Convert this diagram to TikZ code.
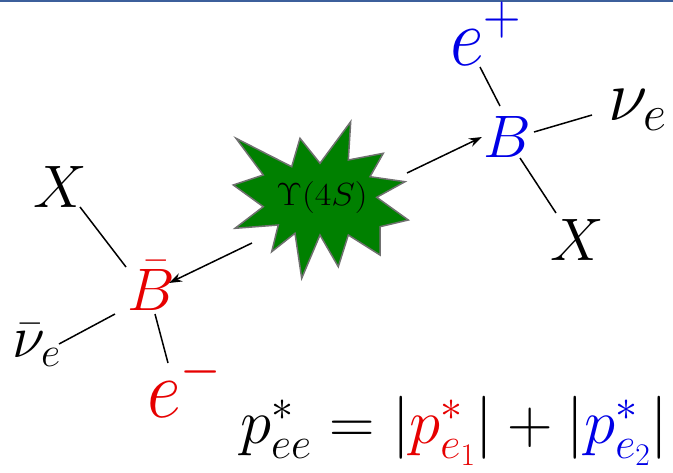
\RequirePackage{fix-cm}
\documentclass[tikz,border=0pt]{standalone}
\usetikzlibrary{arrows.meta,calc}
\definecolor{myred}{RGB}{230,0,0}
\definecolor{myblue}{RGB}{0,0,230}
\definecolor{stargreen}{RGB}{0,128,0}
\definecolor{stargray}{RGB}{112,112,112}
\definecolor{rulecol}{RGB}{60,95,155}
\begin{document}
\begin{tikzpicture}[x=1pt,y=-1pt,
  lbl/.style={inner sep=0pt,anchor=base west,font=\fontsize{60}{66}\selectfont},
  big/.style={font=\fontsize{74}{80}\selectfont},
  leg/.style={line width=1.5pt,black},
  arr/.style={line width=1.5pt,-{Stealth[length=13pt,width=9pt]}}]
\useasboundingbox (0,0) rectangle (673,472);
\fill[rulecol] (0,0) rectangle (673,2);
% star
\coordinate (S) at (320,200);
\filldraw[fill=stargreen,draw=stargray,line width=1.5pt,line join=miter]
 (236,138.3) -- (291.7,166.7) -- (300,138.3) -- (320,163.3) -- (350.7,121.7)
 -- (348.3,160) -- (383.3,153.3) -- (370,176.7) -- (405,181.7) -- (376.7,197.3)
 -- (408.3,220) -- (380,226.7) -- (380,255) -- (348.3,235) -- (338.3,266.7)
 -- (320,235) -- (301.7,278.3) -- (295,233.3) -- (271.7,251.7) -- (278.3,225)
 -- (235,228.3) -- (263.3,206.7) -- (233.3,185) -- (263.3,175) -- cycle;
\node[inner sep=0pt,anchor=base,font=\fontsize{32}{34}\selectfont] (ups) at (322,205)
 {\scalebox{1.12}[1]{$\Upsilon(4S)$}};
% right B
\node[lbl,text=myblue] (B) at (483,157) {$B$};
\node[lbl,big,text=myblue] (ep) at (450,65) {\scalebox{1}[1.12]{$e^{+}$}};
\node[lbl,font=\fontsize{72}{78}\selectfont] (nu) at (608,120) {$\nu_e$};
\node[lbl] (XR) at (550,260) {$X$};
% left Bbar
\node[lbl,text=myred] (Bb) at (127,310) {$\bar{B}$};
\node[lbl] (XL) at (33,207) {$X$};
\node[lbl] (nub) at (12,357) {$\bar{\nu}_e$};
\node[lbl,big,text=myred] (em) at (147,417) {\scalebox{1}[1.12]{$e^{-}$}};
% legs
\draw[leg] ([shift={(30,2)}]ep.base west) -- ([shift={(17,-51)}]B.base west);
\draw[leg] ([shift={(51,-25)}]B.base west) -- ([shift={(-16,-5)}]nu.base west);
\draw[leg] ([shift={(37,1)}]B.base west) -- ([shift={(6,-47)}]XR.base west);
\draw[leg] ([shift={(47,0)}]XL.base west) -- ([shift={(-1,-43)}]Bb.base west);
\draw[leg] ([shift={(-12,4)}]Bb.base west) -- ([shift={(47,-13)}]nub.base west);
\draw[leg] ([shift={(28,4)}]Bb.base west) -- ([shift={(21,-54)}]em.base west);
% arrows
\draw[arr] ([shift={(87,-27)}]S) -- ([shift={(-1,-20)}]B.base west);
\draw[arr] ([shift={(-68,43)}]S) -- ([shift={(42,-27)}]Bb.base west);
% formula
\node[lbl,font=\fontsize{63}{68}\selectfont] (eq) at (240,443)
 {$p^*_{ee} = |{\color{myred}p^*_{e_1}}| + |{\color{myblue}p^*_{e_2}}|$};
\end{tikzpicture}
\end{document}
